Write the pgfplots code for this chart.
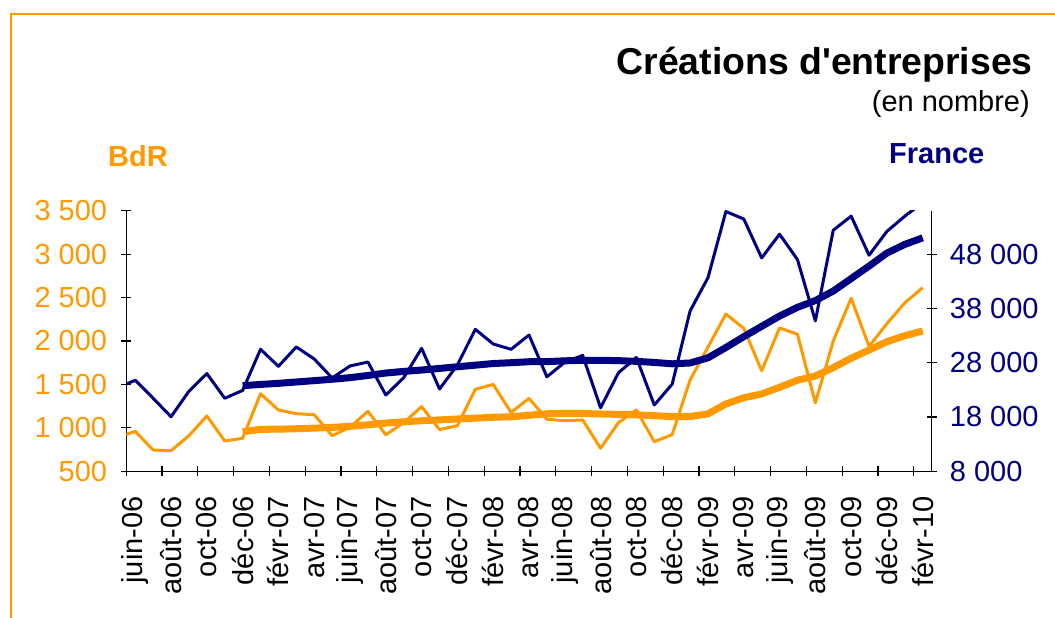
\documentclass[border=0pt]{standalone}
\usepackage{fontspec}
\setmainfont{Liberation Sans}
\usepackage{pgfplots}
\usepackage{pgfplotstable}
\pgfplotsset{compat=1.18}

\definecolor{bdr}{RGB}{255,153,0}
\definecolor{fr}{RGB}{0,0,128}

% mois 0 = juin-06 ... 44 = fevr-10 ; mens = brut, moy = moyenne 12 mois
\pgfplotstableread{
i mens moy
-1 890 nan
0 960 nan
1 745 nan
2 737 nan
3 910 nan
4 1137 nan
5 849 nan
6 880 955
7 1393 983
8 1206 985
9 1163 990
10 1152 997
11 910 1005
12 1007 1018
13 1191 1035
14 920 1055
15 1060 1070
16 1244 1082
17 980 1092
18 1025 1102
19 1444 1112
20 1500 1122
21 1178 1128
22 1340 1145
23 1100 1162
24 1082 1168
25 1091 1165
26 765 1160
27 1060 1155
28 1206 1150
29 841 1140
30 922 1130
31 1551 1130
32 1930 1162
33 2310 1275
34 2146 1347
35 1658 1390
36 2150 1467
37 2077 1548
38 1287 1597
39 2000 1693
40 2492 1801
41 1938 1896
42 2200 1992
43 2440 2061
44 2614 2115
}\bdrdata

\pgfplotstableread{
i mens moy
-1 23400 nan
0 24760 nan
1 21450 nan
2 18050 nan
3 22750 nan
4 26000 nan
5 21450 nan
6 22900 23770
7 30470 24000
8 27340 24200
9 30900 24450
10 28690 24700
11 25190 24950
12 27400 25250
13 28130 25650
14 22050 26100
15 25240 26400
16 30650 26650
17 23160 26950
18 27580 27250
19 34150 27550
20 31450 27850
21 30470 28000
22 33100 28180
23 25400 28200
24 28100 28350
25 29350 28450
26 19700 28450
27 26160 28380
28 28960 28250
29 20210 28050
30 24050 27800
31 37530 27950
32 43660 28900
33 55850 30800
34 54470 32800
35 47300 34700
36 51670 36600
37 47000 38200
38 35700 39450
39 52400 41200
40 55000 43500
41 47800 45800
42 52200 48200
43 55000 49800
44 57500 51000
}\frdata

\pgfplotsset{
  commun/.style={
    scale only axis,
    width=805.4pt, height=260.6pt,
    at={(126.3pt,146.7pt)}, anchor=south west,
    xmin=-0.5, xmax=44.5,
    tick align=outside,
    major tick length=10pt,
    axis line style={-, black, line width=1.2pt},
    major tick style={black, line width=1.2pt},
    tick label style={font=\fontsize{29}{34}\selectfont},
    scaled y ticks=false,
    /pgf/number format/assume math mode=true,
  },
}

\begin{document}
\begin{tikzpicture}
\path[use as bounding box] (0pt,0pt) rectangle (1055pt,618pt);
\draw[bdr, line width=2pt] (10.5pt,-20pt) -- (10.5pt,603.5pt) -- (1080pt,603.5pt);

\node[anchor=base east, inner sep=0pt, font=\fontsize{37.4}{44}\selectfont\bfseries]
  at (1033pt,543pt) {Créations d\textquotesingle entreprises};
\node[anchor=base east, inner sep=0pt, font=\fontsize{29}{34}\selectfont]
  at (1030pt,506pt) {(en nombre)};
\node[anchor=base west, inner sep=0pt, text=bdr, font=\fontsize{29}{34}\selectfont\bfseries]
  at (108pt,451pt) {BdR};
\node[anchor=base west, inner sep=0pt, text=fr, font=\fontsize{29}{34}\selectfont\bfseries]
  at (889pt,454.5pt) {France};

\begin{axis}[commun,
  axis x line=bottom, axis y line=left,
  axis line style={-},
  ymin=500, ymax=3500,
  ytick={500,1000,...,3500},
  yticklabels={500,1 000,1 500,2 000,2 500,3 000,3 500},
  yticklabel style={text=bdr, anchor=east, inner sep=0pt, xshift=-14pt},
  xtick={-0.5,1.5,...,43.5},
  xticklabels={},
  extra x ticks={0,2,...,44},
  extra x tick labels={juin-06,août-06,oct-06,déc-06,févr-07,avr-07,juin-07,août-07,oct-07,déc-07,févr-08,avr-08,juin-08,août-08,oct-08,déc-08,févr-09,avr-09,juin-09,août-09,oct-09,déc-09,févr-10},
  extra x tick style={major tick length=0pt,
    xticklabel style={rotate=90, anchor=east, inner sep=0pt, xshift=-25pt}},
]
\addplot[bdr, line width=3pt, line join=round] table[x=i, y=mens] {\bdrdata};
\addplot[bdr, line width=7pt, line join=round] table[x=i, y=moy] {\bdrdata};
\end{axis}

\begin{axis}[commun,
  axis x line=none, axis y line=right,
  axis line style={-},
  ymin=8000, ymax=56000,
  ytick={8000,18000,...,48000},
  yticklabels={8 000,18 000,28 000,38 000,48 000},
  yticklabel style={text=fr, anchor=west, inner sep=0pt, xshift=13pt},
]
\addplot[fr, line width=3pt, line join=round] table[x=i, y=mens] {\frdata};
\addplot[fr, line width=7pt, line join=round] table[x=i, y=moy] {\frdata};
\end{axis}
\end{tikzpicture}
\end{document}
